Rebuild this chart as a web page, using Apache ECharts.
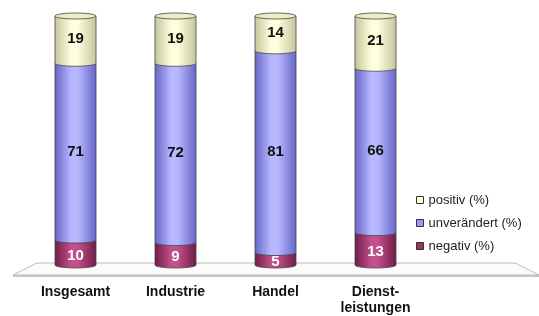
<!DOCTYPE html>
<html>
<head>
<meta charset="utf-8">
<script src="https://cdn.jsdelivr.net/npm/echarts@6/dist/echarts.min.js"></script>
<style>
  html, body { margin: 0; padding: 0; background: #fff; }
  #chart { width: 539px; height: 316px; }
</style>
</head>
<body>
<div id="chart"></div>
<script>
var categories = ['Insgesamt', 'Industrie', 'Handel', 'Dienst-\nleistungen'];
var negativ = [10, 9, 5, 13];
var unveraendert = [71, 72, 81, 66];
var positiv = [19, 19, 14, 21];

var myChart = echarts.init(document.getElementById('chart'));

// segment colors: edge dark, highlight, flat (legend) color, label color
var STYLES = {
  neg: { dark: '#6e1c48', light: '#c2508a', flat: '#993366', cap: '#993366', label: '#fff', dy: 3 },
  unv: { dark: '#6565c8', light: '#b8b8ff', flat: '#9999ff', cap: '#9999ff', label: '#111', dy: 0 },
  pos: { dark: '#c4c49a', light: '#ffffe0', flat: '#ffffcc', cap: '#eeeec4', label: '#111', dy: -1 }
};

function stackData(values, below) {
  var out = [];
  for (var i = 0; i < values.length; i++) {
    var base = 0;
    for (var j = 0; j < below.length; j++) base += below[j][i];
    out.push([i, base, base + values[i], values[i]]);
  }
  return out;
}

function makeRender(st, withCap) {
  return function (params, api) {
    var idx = api.value(0);
    var top = api.coord([idx, api.value(2)]);
    var bot = api.coord([idx, api.value(1)]);
    var w = api.size([1, 0])[0] * 0.41;
    var rx = w / 2, ry = 3;
    var l = top[0] - rx, r = top[0] + rx;
    var fill = {
      type: 'linear', x: 0, y: 0, x2: 1, y2: 0,
      colorStops: [
        { offset: 0, color: st.dark },
        { offset: 0.4, color: st.light },
        { offset: 0.55, color: st.light },
        { offset: 1, color: st.dark }
      ]
    };
    var d = 'M' + l + ',' + top[1] + ' L' + l + ',' + bot[1] +
      ' A' + rx + ',' + ry + ' 0 0 0 ' + r + ',' + bot[1] +
      ' L' + r + ',' + top[1] + ' Z';
    var children = [{
      type: 'path',
      shape: { pathData: d },
      style: { fill: fill, stroke: '#444', lineWidth: 0.8 }
    }];
    if (withCap) {
      children.push({
        type: 'ellipse',
        shape: { cx: top[0], cy: top[1], rx: rx, ry: ry },
        style: { fill: st.cap, stroke: '#444', lineWidth: 0.8 }
      });
    }
    children.push({
      type: 'text',
      style: {
        text: String(api.value(3)),
        x: top[0],
        y: (top[1] + bot[1]) / 2 + st.dy,
        align: 'center',
        verticalAlign: 'middle',
        font: 'bold 15px Arial, "Liberation Sans", sans-serif',
        fill: st.label
      }
    });
    return { type: 'group', children: children };
  };
}

var option = {
  animation: false,
  grid: { left: 25.5, right: 113.5, top: 16, bottom: 49 },
  xAxis: {
    type: 'category',
    data: categories,
    axisLine: { show: false },
    axisTick: { show: false },
    axisLabel: {
      margin: 19,
      color: '#111',
      fontWeight: 'bold',
      fontSize: 14,
      lineHeight: 16,
      fontFamily: 'Arial, "Liberation Sans", sans-serif'
    }
  },
  yAxis: { type: 'value', min: 0, max: 100, show: false },
  legend: {
    orient: 'vertical',
    left: 411,
    top: 188,
    itemWidth: 7,
    itemHeight: 7,
    itemGap: 9,
    icon: 'rect',
    itemStyle: { borderColor: '#333', borderWidth: 1 },
    textStyle: {
      fontSize: 13,
      lineHeight: 14,
      color: '#222',
      fontFamily: 'Arial, "Liberation Sans", sans-serif'
    },
    data: ['positiv (%)', 'unverändert (%)', 'negativ (%)']
  },
  graphic: [
    {
      type: 'polygon', z: 0,
      shape: { points: [[37, 263], [515, 263], [539, 275], [13, 275]] },
      style: { fill: '#fbfbfb', stroke: '#bdbdbd', lineWidth: 1 }
    },
    {
      type: 'rect', z: 0,
      shape: { x: 13, y: 275, width: 526, height: 2 },
      style: { fill: '#c4c4c4' }
    }
  ],
  series: [
    {
      name: 'negativ (%)', type: 'custom', z: 3,
      itemStyle: { color: STYLES.neg.flat },
      encode: { x: 0, y: [1, 2] },
      renderItem: makeRender(STYLES.neg, false),
      data: stackData(negativ, [])
    },
    {
      name: 'unverändert (%)', type: 'custom', z: 4,
      itemStyle: { color: STYLES.unv.flat },
      encode: { x: 0, y: [1, 2] },
      renderItem: makeRender(STYLES.unv, false),
      data: stackData(unveraendert, [negativ])
    },
    {
      name: 'positiv (%)', type: 'custom', z: 5,
      itemStyle: { color: STYLES.pos.flat },
      encode: { x: 0, y: [1, 2] },
      renderItem: makeRender(STYLES.pos, true),
      data: stackData(positiv, [negativ, unveraendert])
    }
  ]
};

myChart.setOption(option);
</script>
</body>
</html>
